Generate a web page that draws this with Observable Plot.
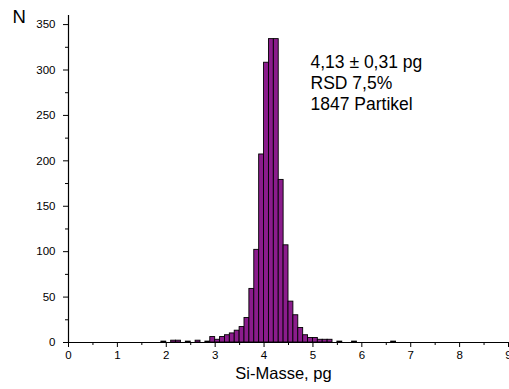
<!DOCTYPE html>
<html>
<head>
<meta charset="utf-8">
<script src="https://cdn.jsdelivr.net/npm/d3@7"></script>
<script src="https://cdn.jsdelivr.net/npm/@observablehq/plot@0.6"></script>
<style>
  html, body { margin: 0; padding: 0; background: #fff; overflow: hidden; }
</style>
</head>
<body>
<div id="chart"></div>
<script>
// Histogram of Si mass per particle (bin width 0.1 pg)
const binStart = [1.9, 2.1, 2.2, 2.4, 2.6, 2.8, 2.9, 3.0, 3.1, 3.2, 3.3, 3.4, 3.5, 3.6, 3.7, 3.8, 3.9, 4.0, 4.1, 4.2, 4.3, 4.4, 4.5, 4.6, 4.7, 4.8, 4.9, 5.0, 5.1, 5.2, 5.3, 5.5, 5.8, 6.6];
const counts   = [1,   2,   2,   1,   2,   1,   6,   3,   6,   8,   10,  13,  17,  27,  59,  102, 207, 308, 334, 334, 179, 107, 45,  30,  16,  8,   5,   5,   3,   3,   3,   1,   1,   1];
const binWidth = 0.1;

const xTicks = [0, 1, 2, 3, 4, 5, 6, 7, 8, 9];
const xMinorTicks = [0.5, 1.5, 2.5, 3.5, 4.5, 5.5, 6.5, 7.5, 8.5];
const yTicks = [0, 50, 100, 150, 200, 250, 300, 350];
const yMinorTicks = [25, 75, 125, 175, 225, 275, 325];

const xLabel = "Si-Masse, pg";
const yLabel = "N";
const annotation = ["4,13 ± 0,31 pg", "RSD 7,5%", "1847 Partikel"];

const bins = binStart.map((b, i) => ({x1: b, x2: b + binWidth, n: counts[i]}));

const plot = Plot.plot({
  width: 509,
  height: 389,
  marginLeft: 68,
  marginRight: 1,
  marginTop: 15,
  marginBottom: 47,
  style: {fontFamily: "'Liberation Sans', Arial, sans-serif", fontSize: "11.5px", color: "#000", background: "#fff"},
  x: {domain: [0, 9], label: null},
  y: {domain: [0, 360], label: null},
  marks: [
    Plot.rectY(bins, {x1: "x1", x2: "x2", y: "n", fill: "#8b1c8c", stroke: "#000", strokeWidth: 0.9, inset: 0}),
    Plot.ruleY([0], {stroke: "#000", strokeWidth: 1.2}),
    Plot.ruleX([0], {stroke: "#000", strokeWidth: 1.2}),
    Plot.axisX({ticks: xTicks, tickSize: 5, tickPadding: 3, tickFormat: d => String(d), stroke: "#000", fill: "#000", label: null}),
    Plot.axisX({ticks: xMinorTicks, tickSize: 3, text: null, stroke: "#000", label: null}),
    Plot.axisY({ticks: yTicks, tickSize: 5, tickPadding: 8, stroke: "#000", fill: "#000", label: null}),
    Plot.axisY({ticks: yMinorTicks, tickSize: 3, text: null, stroke: "#000", label: null}),
    Plot.text([xLabel], {frameAnchor: "bottom", dx: -5, dy: 24.5, lineAnchor: "top", fontSize: 16.5, fill: "#000"}),
    Plot.text([yLabel], {frameAnchor: "top-left", dx: -56, dy: -6, textAnchor: "start", lineAnchor: "top", fontSize: 18.5, fill: "#000"}),
    Plot.text([annotation.join("\n")], {frameAnchor: "top-left", dx: 242, dy: 37.6, textAnchor: "start", lineAnchor: "top", lineHeight: 1.2, fontSize: 17.5, fill: "#000"})
  ]
});
document.getElementById("chart").appendChild(plot);
</script>
</body>
</html>
